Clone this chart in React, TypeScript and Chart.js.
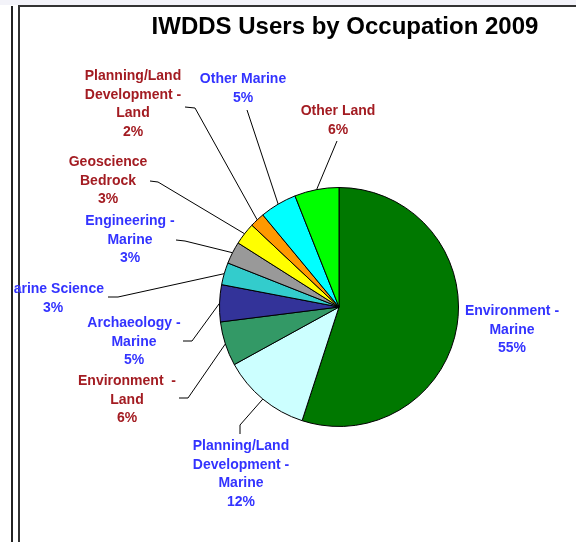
import React, { useEffect, useRef } from "react";
import { Chart, registerables } from "chart.js";

Chart.register(...registerables);

const TITLE = "IWDDS Users by Occupation 2009";

const CATEGORIES = [
  "Environment - Marine",
  "Planning/Land Development - Marine",
  "Environment - Land",
  "Archaeology - Marine",
  "Marine Science",
  "Engineering - Marine",
  "Geoscience Bedrock",
  "Planning/Land Development - Land",
  "Other Marine",
  "Other Land",
];

const VALUES = [55, 12, 6, 5, 3, 3, 3, 2, 5, 6];

const SLICE_COLORS = [
  "#007800",
  "#CCFFFF",
  "#339966",
  "#333399",
  "#33CCCC",
  "#999999",
  "#FFFF00",
  "#FF9900",
  "#00FFFF",
  "#00FF00",
];

const LABEL_LINES = [
  ["Environment -", "Marine"],
  ["Planning/Land", "Development -", "Marine"],
  ["Environment  -", "Land"],
  ["Archaeology -", "Marine"],
  ["Marine Science"],
  ["Engineering -", "Marine"],
  ["Geoscience", "Bedrock"],
  ["Planning/Land", "Development -", "Land"],
  ["Other Marine"],
  ["Other Land"],
];

const BLUE = "#3333FF";
const RED = "#A31C22";
const LABEL_COLORS = [BLUE, BLUE, RED, BLUE, BLUE, BLUE, RED, RED, BLUE, RED];

// layout of the outside labels (page pixels): text centre x, first line y, leader points
const LABEL_LAYOUT: { x: number; y: number; leader: [number, number][] }[] = [
  { x: 512, y: 311, leader: [] },
  { x: 241, y: 446, leader: [[240, 434], [240, 425]] },
  { x: 127, y: 381, leader: [[179, 398], [188, 398]] },
  { x: 134, y: 323, leader: [[183, 341], [192, 341]] },
  { x: 53, y: 289, leader: [[108, 297], [118, 297]] },
  { x: 130, y: 221, leader: [[176, 240], [185, 241]] },
  { x: 108, y: 162, leader: [[150, 181], [158, 182]] },
  { x: 133, y: 76, leader: [[185, 107], [195, 108]] },
  { x: 243, y: 79, leader: [[247, 110]] },
  { x: 338, y: 111, leader: [[337, 141]] },
];

const LINE_H = 18.7;
const LABEL_FONT = "bold 14px 'Liberation Sans', Arial, sans-serif";
const TITLE_FONT = "bold 24px 'Liberation Sans', Arial, sans-serif";

const labelPlugin = {
  id: "outsideLabels",
  afterDraw(chart: any) {
    const ctx = chart.ctx;
    const meta = chart.getDatasetMeta(0);
    const total = VALUES.reduce((a, b) => a + b, 0);
    ctx.save();
    // title
    ctx.font = TITLE_FONT;
    ctx.fillStyle = "#000";
    ctx.textAlign = "center";
    ctx.textBaseline = "middle";
    ctx.fillText(TITLE, 345, 27);

    meta.data.forEach((arc: any, i: number) => {
      const p = arc.getProps(["x", "y", "startAngle", "endAngle", "outerRadius"], true);
      const mid = (p.startAngle + p.endAngle) / 2;
      const rx = p.x + p.outerRadius * Math.cos(mid);
      const ry = p.y + p.outerRadius * Math.sin(mid);
      const lay = LABEL_LAYOUT[i];
      if (lay.leader.length) {
        ctx.beginPath();
        ctx.strokeStyle = "#000";
        ctx.lineWidth = 1;
        ctx.moveTo(lay.leader[0][0], lay.leader[0][1]);
        for (let k = 1; k < lay.leader.length; k++) ctx.lineTo(lay.leader[k][0], lay.leader[k][1]);
        ctx.lineTo(rx, ry);
        ctx.stroke();
      }
      const pct = Math.round((VALUES[i] / total) * 100) + "%";
      const lines = [...LABEL_LINES[i], pct];
      ctx.font = LABEL_FONT;
      ctx.fillStyle = LABEL_COLORS[i];
      ctx.textAlign = "center";
      ctx.textBaseline = "middle";
      lines.forEach((t, k) => ctx.fillText(t, lay.x, lay.y + k * LINE_H));
    });
    ctx.restore();
  },
};

export default function App() {
  const ref = useRef<HTMLCanvasElement | null>(null);
  useEffect(() => {
    if (!ref.current) return;
    const chart = new Chart(ref.current, {
      type: "pie",
      data: {
        labels: CATEGORIES,
        datasets: [
          {
            data: VALUES,
            backgroundColor: SLICE_COLORS,
            borderColor: "#000",
            borderWidth: 1,
          },
        ],
      },
      options: {
        animation: false,
        responsive: false,
        devicePixelRatio: 1,
        layout: { padding: { left: 219, right: 117, top: 187, bottom: 115 } },
        plugins: {
          legend: { display: false },
          tooltip: { enabled: false },
          title: { display: false },
        },
      },
      plugins: [labelPlugin],
    });
    return () => chart.destroy();
  }, []);

  return (
    <div
      style={{
        position: "fixed",
        left: 0,
        top: 0,
        width: 576,
        height: 542,
        background: "#fff",
        overflow: "hidden",
      }}
    >
      <div style={{ position: "absolute", left: 0, top: 0, width: 576, height: 5, background: "#F3F3F9" }} />
      <div
        style={{
          position: "absolute",
          left: 18,
          top: 5,
          width: 700,
          height: 700,
          borderLeft: "2px solid #333",
          borderTop: "2px solid #333",
        }}
      />
      <canvas ref={ref} width={576} height={542} style={{ position: "absolute", left: 0, top: 0 }} />
      <div
        style={{
          position: "absolute",
          left: -5,
          top: 6,
          width: 16,
          height: 600,
          background: "#fff",
          borderRight: "2px solid #222",
          zIndex: 2,
        }}
      />
    </div>
  );
}
